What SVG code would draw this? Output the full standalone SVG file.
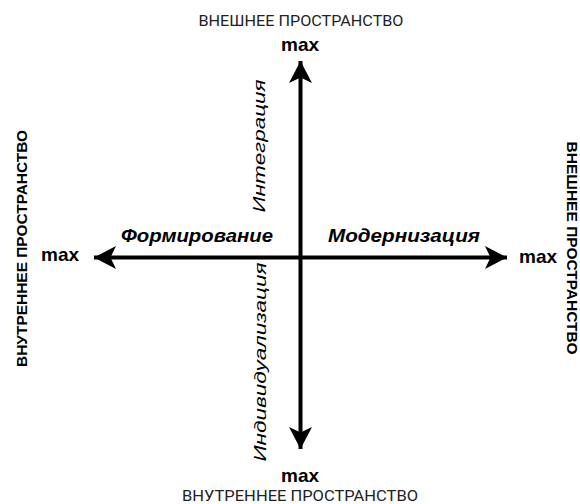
<svg xmlns="http://www.w3.org/2000/svg" width="580" height="504" viewBox="0 0 580 504">
  <style>
    .axis { stroke: #000; stroke-width: 4; fill: none; }
    .space { font-family: Roboto, "Liberation Sans", sans-serif; font-size: 15.5px; fill: #222; }
    .space-side { font-family: "Liberation Sans", Arial, sans-serif; font-size: 14px; font-weight: bold; fill: #000; }
    .max { font-family: "Liberation Sans", Arial, sans-serif; font-size: 19px; font-weight: bold; fill: #000; }
    .stage { font-family: "Liberation Sans", Arial, sans-serif; font-size: 18px; font-weight: bold; font-style: italic; fill: #000; }
    .stage-v { font-family: "Liberation Sans", Arial, sans-serif; font-size: 17px; font-style: italic; fill: #000; }
  </style>
  <defs>
    <marker id="head" viewBox="0 0 22 23" refX="22" refY="11.5" markerWidth="22" markerHeight="23" markerUnits="userSpaceOnUse" orient="auto">
      <path d="M0,0 L22,11.5 L0,23 L5.5,11.5 Z" fill="#000"/>
    </marker>
  </defs>
  <rect width="580" height="504" fill="#fff"/>

  <g id="connectors">
    <line class="axis" x1="300.5" y1="258" x2="300.5" y2="61" marker-end="url(#head)"/>
    <line class="axis" x1="300.5" y1="258" x2="300.5" y2="449" marker-end="url(#head)"/>
    <line class="axis" x1="300.5" y1="257.5" x2="94" y2="257.5" marker-end="url(#head)"/>
    <line class="axis" x1="300.5" y1="257.5" x2="507" y2="257.5" marker-end="url(#head)"/>
  </g>

  <g id="top">
    <text class="space" x="301" y="26" text-anchor="middle" textLength="205" lengthAdjust="spacingAndGlyphs">ВНЕШНЕЕ ПРОСТРАНСТВО</text>
    <text class="max" x="300" y="51" text-anchor="middle">max</text>
  </g>

  <g id="bottom">
    <text class="max" x="300" y="482" text-anchor="middle">max</text>
    <text class="space" x="300" y="501" text-anchor="middle" textLength="236" lengthAdjust="spacingAndGlyphs">ВНУТРЕННЕЕ ПРОСТРАНСТВО</text>
  </g>

  <g id="left">
    <text class="space-side" transform="translate(27,248.5) rotate(-90)" text-anchor="middle" textLength="237" lengthAdjust="spacingAndGlyphs">ВНУТРЕННЕЕ ПРОСТРАНСТВО</text>
    <text class="max" x="41" y="261">max</text>
  </g>

  <g id="right">
    <text class="space-side" transform="translate(567,248) rotate(90)" text-anchor="middle" textLength="213" lengthAdjust="spacingAndGlyphs">ВНЕШНЕЕ ПРОСТРАНСТВО</text>
    <text class="max" x="519" y="263">max</text>
  </g>

  <g id="formation">
    <text class="stage" x="197" y="242" text-anchor="middle" textLength="152" lengthAdjust="spacingAndGlyphs">Формирование</text>
  </g>
  <g id="modernization">
    <text class="stage" x="404" y="242" text-anchor="middle" textLength="152" lengthAdjust="spacingAndGlyphs">Модернизация</text>
  </g>
  <g id="integration">
    <text class="stage-v" transform="translate(265,146) rotate(-90)" text-anchor="middle" textLength="133" lengthAdjust="spacingAndGlyphs">Интеграция</text>
  </g>
  <g id="individualization">
    <text class="stage-v" transform="translate(266,362) rotate(-90)" text-anchor="middle" textLength="199" lengthAdjust="spacingAndGlyphs">Индивидуализация</text>
  </g>
</svg>
